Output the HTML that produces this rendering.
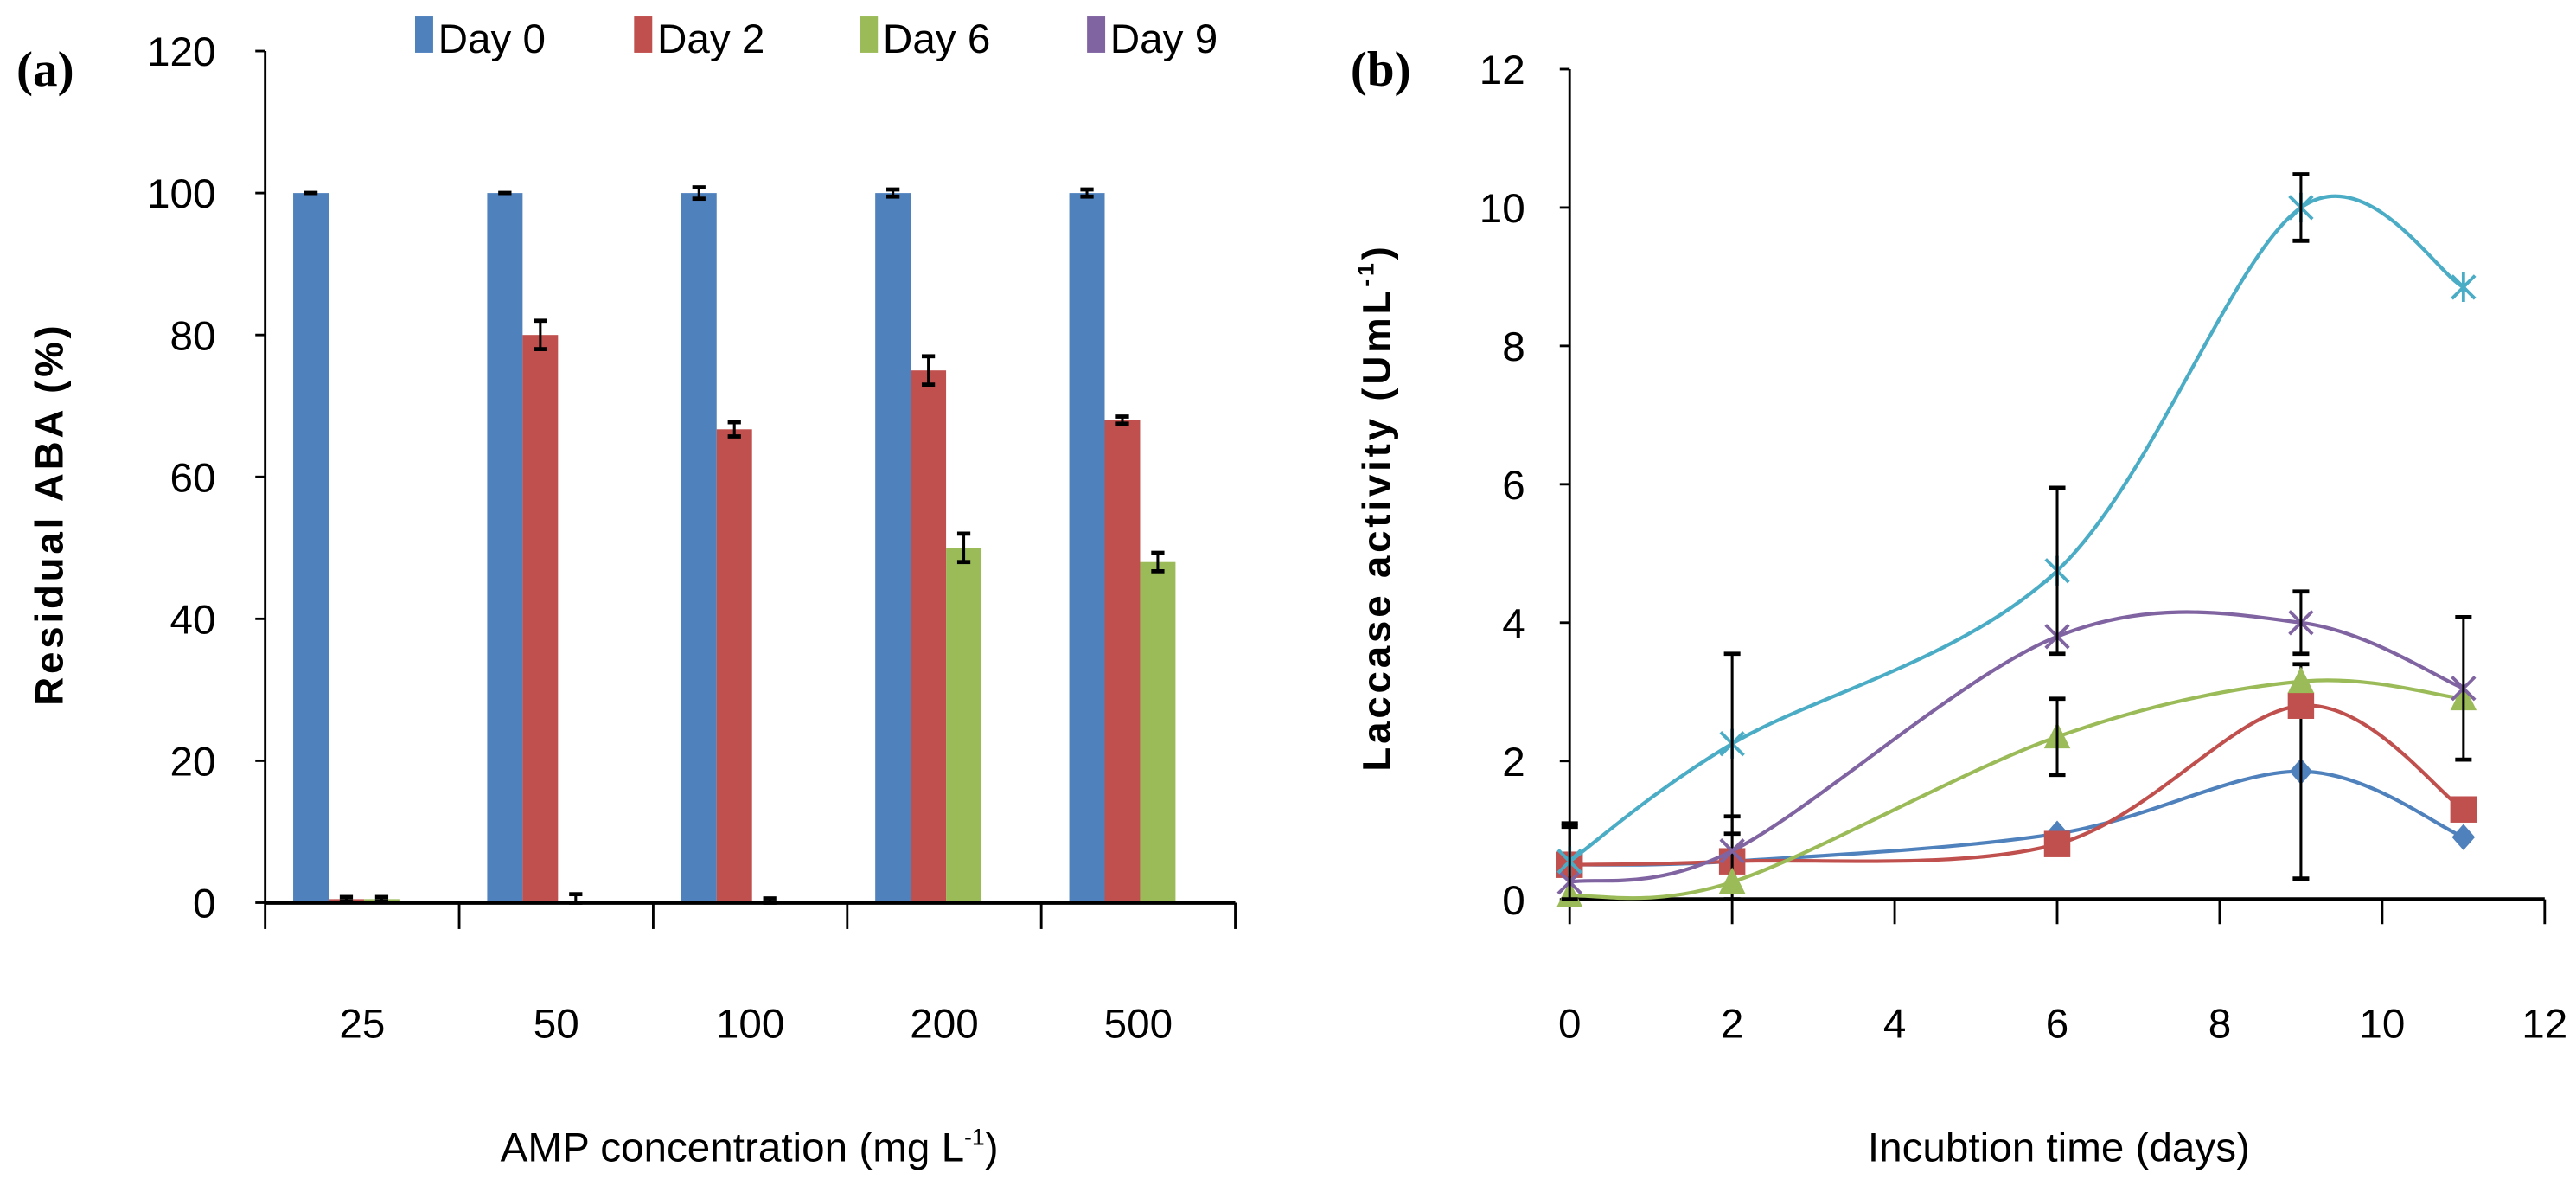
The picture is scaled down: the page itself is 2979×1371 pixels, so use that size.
<!DOCTYPE html>
<html><head><meta charset="utf-8"><style>
html,body{margin:0;padding:0;background:#fff;}
svg{display:block;font-family:"Liberation Sans",sans-serif;}
</style></head><body>
<svg id="fig" width="2979" height="1371" viewBox="0 0 1564 720" preserveAspectRatio="none" xmlns="http://www.w3.org/2000/svg">
<g id="left"></g>
<g id="right"></g>
</svg>
<script>
// ---- Chart (a) data ----
const categoriesA = ["25","50","100","200","500"];
const seriesNamesA = ["Day 0","Day 2","Day 6","Day 9"];
const day0 = [100,100,100,100,100];
const day2 = [0.5,80,66.7,75,68];
const day6 = [0.5,0,0.3,50,48];
const day9 = [0,0,0,0,0];
const err0 = [0,0,0.8,0.5,0.5];
const err2 = [0.3,2,1,2,0.5];
const err6 = [0.3,1.2,0.3,2,1.3];
const err9 = [0,0,0,0,0];
const yTicksA = [0,20,40,60,80,100,120];
// ---- Chart (b) data ----
const daysB = [0,2,6,9,11];
const blueS = [0.5,0.55,0.95,1.85,0.9];
const redS = [0.5,0.55,0.8,2.8,1.3];
const greenS = [0.05,0.25,2.35,3.15,2.9];
const purpleS = [0.25,0.7,3.8,4.0,3.05];
const cyanS = [0.55,2.25,4.75,10.0,8.85];
const blueE = [0,0,0,1.55,0];
const redE = [0.55,0.65,0,0,0];
const greenE = [0,0,0.55,0,0];
const purpleE = [0,0,0,0.45,1.03];
const cyanE = [0.55,1.3,1.2,0.48,0];
const xTicksB = [0,2,4,6,8,10,12];
const yTicksB = [0,2,4,6,8,10,12];

const NS="http://www.w3.org/2000/svg";
function mk(parent,tag,attrs,text){const e=document.createElementNS(NS,tag);for(const k in attrs)e.setAttribute(k,attrs[k]);if(text!==undefined)e.textContent=text;parent.appendChild(e);return e;}

// ===== Chart A =====
const A=document.getElementById('left');
const ax0=161, ax1=750, ay0=548, ayTop=31;
const yA=v=>ay0-v*(ay0-ayTop)/120;
const gw=(ax1-ax0)/categoriesA.length;
const bw=21.5, goff=17;
const colorsA=["#4f81bd","#c0504d","#9bbb59","#8064a2"];
const valsA=[day0,day2,day6,day9];
const errsA=[err0,err2,err6,err9];
valsA.forEach((vals,s)=>{
  vals.forEach((v,i)=>{
    const x=ax0+i*gw+goff+s*bw;
    if(v>0){
      const r=mk(A,'rect',{x:x,y:yA(v),width:bw,height:ay0-yA(v),fill:colorsA[s]});
      
      
    }
    const e=errsA[s][i];
    if(v>0||e>0){
      const cx=x+bw/2;
      const g=mk(A,'g',{stroke:'#000','stroke-width':1.6});
      
      
      mk(g,'line',{x1:cx,x2:cx,y1:yA(v+e),y2:yA(Math.max(0,v-e))});
      mk(g,'line',{x1:cx-4,x2:cx+4,y1:yA(v+e),y2:yA(v+e),'stroke-width':2.5});
      mk(g,'line',{x1:cx-4,x2:cx+4,y1:yA(Math.max(0,v-e)),y2:yA(Math.max(0,v-e)),'stroke-width':2.5});
    }
  });
});
let l=mk(A,'line',{x1:ax0,x2:ax0,y1:ayTop,y2:ay0,stroke:'#000','stroke-width':1.5});

l=mk(A,'line',{x1:ax0,x2:ax1,y1:ay0,y2:ay0,stroke:'#000','stroke-width':2.5});

yTicksA.forEach(t=>{
  mk(A,'line',{x1:ax0-6,x2:ax0,y1:yA(t),y2:yA(t),stroke:'#000','stroke-width':1.5});
  const tx=mk(A,'text',{x:ax0-30,y:yA(t)+9,'text-anchor':'end','font-size':25},String(t));
  
});
for(let i=0;i<=categoriesA.length;i++){
  mk(A,'line',{x1:ax0+i*gw,x2:ax0+i*gw,y1:ay0,y2:ay0+16,stroke:'#000','stroke-width':1.5});
}
categoriesA.forEach((c,i)=>{
  const tx=mk(A,'text',{x:ax0+(i+0.5)*gw,y:630,'text-anchor':'middle','font-size':25},c);
  
});
let t=mk(A,'text',{x:0,y:0,'text-anchor':'middle','font-size':24,'font-weight':'bold','letter-spacing':2,transform:'translate(38,312) rotate(-90)'},'Residual ABA  (%)');

t=mk(A,'text',{x:455,y:705,'text-anchor':'middle','font-size':25},'');

t.innerHTML='AMP  concentration (mg L<tspan dy="-10" font-size="14">-1</tspan><tspan dy="10">)</tspan>';
t=mk(A,'text',{x:10,y:52,'font-size':30,'font-weight':'bold','font-family':'Liberation Serif, serif'},'(a)');

const legX=[252,385,522,660];
seriesNamesA.forEach((n,s)=>{
  const g=mk(A,'g',{});
  
  
  mk(g,'rect',{x:legX[s],y:10,width:11,height:22,fill:colorsA[s]});
  mk(g,'text',{x:legX[s]+14,y:32,'font-size':25},n);
});

// ===== Chart B =====
const B=document.getElementById('right');
const bx0=953,bx1=1545,by0=546,byTop=42;
const xB=v=>bx0+v*(bx1-bx0)/12;
const yB=v=>by0-v*(by0-byTop)/12;
yTicksB.forEach(t=>{
  mk(B,'line',{x1:bx0-6,x2:bx0,y1:yB(t),y2:yB(t),stroke:'#000','stroke-width':1.5});
  const tx=mk(B,'text',{x:bx0-27,y:yB(t)+9,'text-anchor':'end','font-size':25},String(t));
  
});
xTicksB.forEach(t=>{
  mk(B,'line',{x1:xB(t),x2:xB(t),y1:by0,y2:by0+15,stroke:'#000','stroke-width':1.5});
  const tx=mk(B,'text',{x:xB(t),y:630,'text-anchor':'middle','font-size':25},String(t));
  
});
l=mk(B,'line',{x1:bx0,x2:bx0,y1:byTop,y2:by0,stroke:'#000','stroke-width':1.5});

l=mk(B,'line',{x1:bx0,x2:bx1,y1:by0,y2:by0,stroke:'#000','stroke-width':2.5});


function smoothPath(pts){
  let d='M'+pts[0][0]+','+pts[0][1];
  for(let i=0;i<pts.length-1;i++){
    const p0=pts[Math.max(0,i-1)],p1=pts[i],p2=pts[i+1],p3=pts[Math.min(pts.length-1,i+2)];
    const c1=[p1[0]+(p2[0]-p0[0])/6,p1[1]+(p2[1]-p0[1])/6];
    const c2=[p2[0]-(p3[0]-p1[0])/6,p2[1]-(p3[1]-p1[1])/6];
    d+=' C'+c1+' '+c2+' '+p2;
  }
  return d;
}
const seriesB=[
 {name:'series-blue',vals:blueS,errs:blueE,color:'#4f81bd',m:'diamond'},
 {name:'series-red',vals:redS,errs:redE,color:'#c0504d',m:'square'},
 {name:'series-green',vals:greenS,errs:greenE,color:'#9bbb59',m:'triangle'},
 {name:'series-purple',vals:purpleS,errs:purpleE,color:'#8064a2',m:'x'},
 {name:'series-cyan',vals:cyanS,errs:cyanE,color:'#4bacc6',m:'star'}
];
seriesB.forEach(s=>{
  const g=mk(B,'g',{});
  
  
  const pts=daysB.map((d,i)=>[xB(d),yB(s.vals[i])]);
  mk(g,'path',{d:smoothPath(pts),fill:'none',stroke:s.color,'stroke-width':2.2});
  pts.forEach(([x,y])=>{
    let mEl;
    if(s.m==='diamond') mEl=mk(g,'path',{d:`M${x},${y-8}L${x+7},${y}L${x},${y+8}L${x-7},${y}Z`,fill:s.color});
    else if(s.m==='square') mEl=mk(g,'rect',{x:x-8,y:y-8,width:16,height:16,fill:s.color});
    else if(s.m==='triangle') mEl=mk(g,'path',{d:`M${x},${y-9}L${x+8},${y+7}L${x-8},${y+7}Z`,fill:s.color});
    else if(s.m==='x') mEl=mk(g,'path',{d:`M${x-7},${y-7}L${x+7},${y+7}M${x+7},${y-7}L${x-7},${y+7}`,stroke:s.color,'stroke-width':2});
    else mEl=mk(g,'path',{d:`M${x-7},${y-7}L${x+7},${y+7}M${x+7},${y-7}L${x-7},${y+7}M${x},${y-9}L${x},${y+9}`,stroke:s.color,'stroke-width':2});
    
    
  });
  s.vals.forEach((v,i)=>{
    const e=s.errs[i]; if(!e) return;
    const x=xB(daysB[i]);
    const eg=mk(B,'g',{stroke:'#000','stroke-width':1.6});
    
    
    mk(eg,'line',{x1:x,x2:x,y1:yB(v+e),y2:yB(Math.max(0,v-e))});
    mk(eg,'line',{x1:x-5,x2:x+5,y1:yB(v+e),y2:yB(v+e),'stroke-width':2.5});
    mk(eg,'line',{x1:x-5,x2:x+5,y1:yB(Math.max(0,v-e)),y2:yB(Math.max(0,v-e)),'stroke-width':2.5});
  });
});
t=mk(B,'text',{x:0,y:0,'text-anchor':'middle','font-size':24,'font-weight':'bold','letter-spacing':2,transform:'translate(844,308) rotate(-90)'},'');

t.innerHTML='Laccase activity  (UmL<tspan dy="-10" font-size="14">-1</tspan><tspan dy="10">)</tspan>';
t=mk(B,'text',{x:1250,y:705,'text-anchor':'middle','font-size':25},'Incubtion time (days)');

t=mk(B,'text',{x:820,y:52,'font-size':30,'font-weight':'bold','font-family':'Liberation Serif, serif'},'(b)');

</script>
</body></html>
